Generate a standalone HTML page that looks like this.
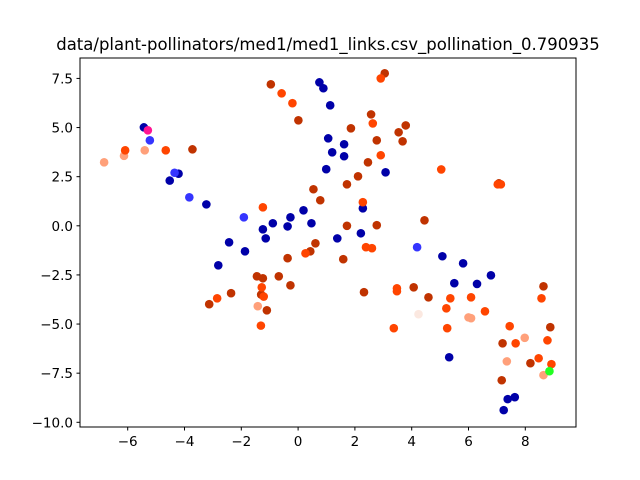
<!DOCTYPE html>
<html><head><meta charset="utf-8"><style>
body{margin:0;background:#fff;}
svg{display:block;font-family:"DejaVu Sans","Liberation Sans",sans-serif;}
</style></head><body>
<svg id="chart" width="640" height="480">
<text x="328" y="50" text-anchor="middle" font-size="16.5">data/plant-pollinators/med1/med1_links.csv_pollination_0.790935</text>
<g id="pts"></g>
<rect x="80" y="58" width="496" height="369" fill="none" stroke="#000" stroke-width="1"/>
<g id="ax"></g>
</svg>
<script>
const xTicks=[-6,-4,-2,0,2,4,6,8];
const yTicks=[-10,-7.5,-5,-2.5,0,2.5,5,7.5];
const yTickLabels=["−10.0","−7.5","−5.0","−2.5","0.0","2.5","5.0","7.5"];
const xTickLabels=["−6","−4","−2","0","2","4","6","8"];
const darkBlueX=[-5.43,-4.21,-4.52,-3.23,-2.43,-2.81,-1.87,-1.24,-1.14,-0.89,-0.37,-0.27,0.19,0.47,0.75,0.89,1.13,1.06,1.2,1.62,1.62,0.99,1.38,2.21,2.28,3.08,5.08,5.5,5.81,6.3,6.79,5.32,7.24,7.38,7.63];
const darkBlueY=[5.01,2.65,2.3,1.09,-0.84,-2.01,-1.3,-0.18,-0.64,0.13,-0.03,0.43,0.79,0.13,7.3,7.0,6.13,4.45,3.74,4.15,3.54,2.88,-0.64,-0.38,0.89,2.72,-1.55,-2.92,-1.91,-2.96,-2.52,-6.69,-9.38,-8.82,-8.72];
const blueX=[-5.22,-4.35,-3.83,-1.91,4.19];
const blueY=[4.35,2.7,1.45,0.43,-1.09];
const salmonX=[-6.83,-6.13,-5.4,-1.42,6.0,6.09,7.35,7.98,8.64];
const salmonY=[3.23,3.56,3.84,-4.09,-4.66,-4.7,-6.9,-5.7,-7.6];
const orangeX=[-6.09,-4.66,-2.85,-1.24,-1.31,-1.28,-1.21,-0.58,-0.2,0.26,2.28,2.39,2.6,2.91,2.63,2.91,3.37,3.48,3.48,5.04,5.22,5.25,5.36,6.09,6.58,7.03,7.14,7.45,7.66,8.57,8.78,8.47,8.92];
const orangeY=[3.84,3.84,-3.69,0.94,-5.08,-3.13,-3.6,6.74,6.24,-1.4,1.2,-1.09,-1.14,7.5,5.21,3.59,-5.21,-3.18,-3.33,2.87,-4.2,-5.21,-3.69,-3.64,-4.35,2.11,2.11,-5.11,-5.98,-3.69,-5.83,-6.74,-7.04];
const darkX=[-3.72,-3.13,-2.36,-1.45,-1.24,-1.3,-1.1,-0.96,-0.37,-0.68,-0.27,0.01,0.54,0.78,0.61,0.43,1.59,1.72,1.86,1.72,2.11,2.32,2.57,2.77,2.77,3.05,3.54,3.68,3.79,4.07,4.45,4.59,7.07,7.17,7.2,8.18,8.64,8.88,2.46];
const darkY=[3.89,-3.99,-3.43,-2.57,-2.67,-3.5,-4.3,7.2,-1.65,-2.57,-3.03,5.37,1.86,1.3,-0.89,-1.3,-1.7,0,4.96,2.11,2.52,-3.38,5.67,4.35,0.03,7.76,4.76,4.3,5.11,-3.13,0.28,-3.64,2.16,-7.86,-5.98,-6.99,-3.08,-5.16,3.23];
const paleX=[4.24];const paleY=[-4.5];
const magentaX=[-5.29];const magentaY=[4.86];
const greenX=[8.85];const greenY=[-7.4];
const xs=v=>127.7+(v+6)*28.4;
const ys=v=>422.3-(v+10)*19.65;
const NS="http://www.w3.org/2000/svg";
const g=document.getElementById('pts');
function draw(X,Y,c,name){for(let i=0;i<X.length;i++){const e=document.createElementNS(NS,'circle');
e.setAttribute('cx',xs(X[i]));e.setAttribute('cy',ys(Y[i]));e.setAttribute('r',4.3);e.setAttribute('fill',c);


g.appendChild(e);}}
draw(darkBlueX,darkBlueY,'#0000a8','point-dark-blue');
draw(blueX,blueY,'#3535ff','point-blue');
draw(salmonX,salmonY,'#ffa07a','point-salmon');
draw(paleX,paleY,'#fbe8e0','point-pale');
draw(darkX,darkY,'#c03300','point-dark-orange');
draw(orangeX,orangeY,'#ff4500','point-orange');
draw(magentaX,magentaY,'#ff1493','point-magenta');
draw(greenX,greenY,'#22ff22','point-green');
const ax=document.getElementById('ax');
xTicks.forEach((t,i)=>{const x=xs(t);
const l=document.createElementNS(NS,'line');l.setAttribute('x1',x);l.setAttribute('x2',x);l.setAttribute('y1',427);l.setAttribute('y2',430.5);l.setAttribute('stroke','#000');


ax.appendChild(l);
const tx=document.createElementNS(NS,'text');tx.setAttribute('x',x);tx.setAttribute('y',446);tx.setAttribute('text-anchor','middle');tx.setAttribute('font-size','13.5');tx.textContent=xTickLabels[i];


ax.appendChild(tx);});
yTicks.forEach((t,i)=>{const y=ys(t);
const l=document.createElementNS(NS,'line');l.setAttribute('x1',76.5);l.setAttribute('x2',80);l.setAttribute('y1',y);l.setAttribute('y2',y);l.setAttribute('stroke','#000');


ax.appendChild(l);
const tx=document.createElementNS(NS,'text');tx.setAttribute('x',73);tx.setAttribute('y',y+5);tx.setAttribute('text-anchor','end');tx.setAttribute('font-size','13.5');tx.textContent=yTickLabels[i];


ax.appendChild(tx);});
</script>
</body></html>
